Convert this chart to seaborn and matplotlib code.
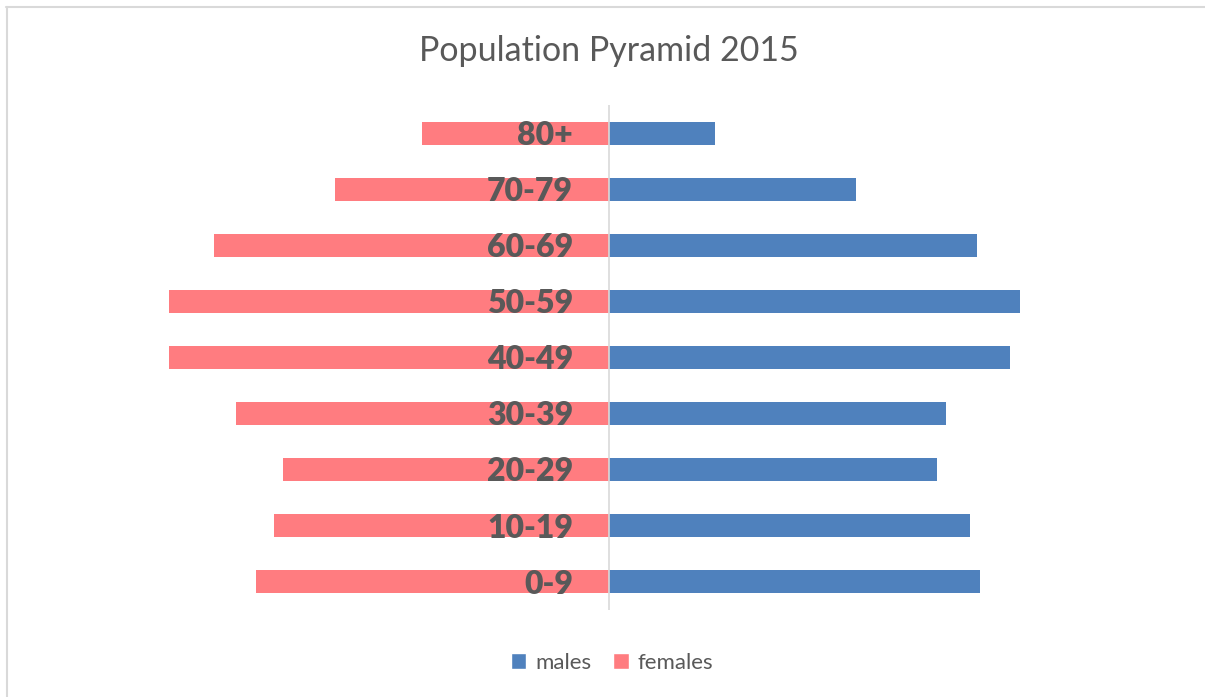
import pandas as pd
import matplotlib.pyplot as plt
from matplotlib.lines import Line2D
from matplotlib.patches import Patch
import seaborn as sns

# age groups, top of the pyramid first
age_groups = ["80+", "70-79", "60-69", "50-59", "40-49", "30-39", "20-29", "10-19", "0-9"]
males = [106, 247, 368, 411, 401, 337, 328, 361, 371]
females = [187, 274, 395, 440, 440, 373, 326, 335, 353]

MALE_COLOR = "#4F81BD"
FEMALE_COLOR = "#FF7C80"
TEXT_COLOR = "#595959"

df = pd.concat([
    pd.DataFrame({"age": age_groups, "sex": "males", "value": males}),
    pd.DataFrame({"age": age_groups, "sex": "females", "value": [-v for v in females]}),
])

sns.set_theme(style="white")
plt.rcParams["font.family"] = ["Lato", "DejaVu Sans"]

W, H = 1205, 697
fig = plt.figure(figsize=(W / 100, H / 100), dpi=100)
ax = fig.add_axes([130 / W, (H - 610) / H, 958 / W, 505 / H])

sns.barplot(
    data=df, y="age", x="value", hue="sex", order=age_groups,
    hue_order=["males", "females"], palette=[MALE_COLOR, FEMALE_COLOR],
    dodge=False, width=0.41, orient="h", ax=ax, legend=False,
    edgecolor="none", saturation=1,
)

ax.set_xlim(-479, 479)
ax.set_ylim(8.5, -0.5)
ax.axvline(0, color="#D9D9D9", lw=1.2, zorder=5)
for s in ax.spines.values():
    s.set_visible(False)
ax.set_xticks([])
ax.set_yticks([])
ax.set_xlabel("")
ax.set_ylabel("")

# age labels sit just left of the centre line
for i, lab in enumerate(age_groups):
    ax.text(-36, i + 0.04, lab, ha="right", va="center", fontsize=23,
            fontweight="heavy", color=TEXT_COLOR, zorder=6)

fig.text(609 / W, 1 - 51 / H, "Population Pyramid 2015", ha="center", va="center",
         fontsize=24.5, color=TEXT_COLOR)

handles = [Patch(facecolor=MALE_COLOR, label="males"),
           Patch(facecolor=FEMALE_COLOR, label="females")]
fig.legend(handles=handles, loc="center", bbox_to_anchor=(612 / W, 1 - 663 / H),
           ncol=2, frameon=False, fontsize=16, handlelength=0.7, handleheight=0.7,
           handletextpad=0.4, columnspacing=1.0, labelcolor=TEXT_COLOR)

# chart-area border (top and left edges visible)
fig.add_artist(Line2D([6 / W, 1], [1 - 7 / H, 1 - 7 / H], color="#D9D9D9", lw=1.5))
fig.add_artist(Line2D([7 / W, 7 / W], [0, 1 - 7 / H], color="#D9D9D9", lw=1.5))

fig.savefig("out.png", dpi=100, facecolor="white")
